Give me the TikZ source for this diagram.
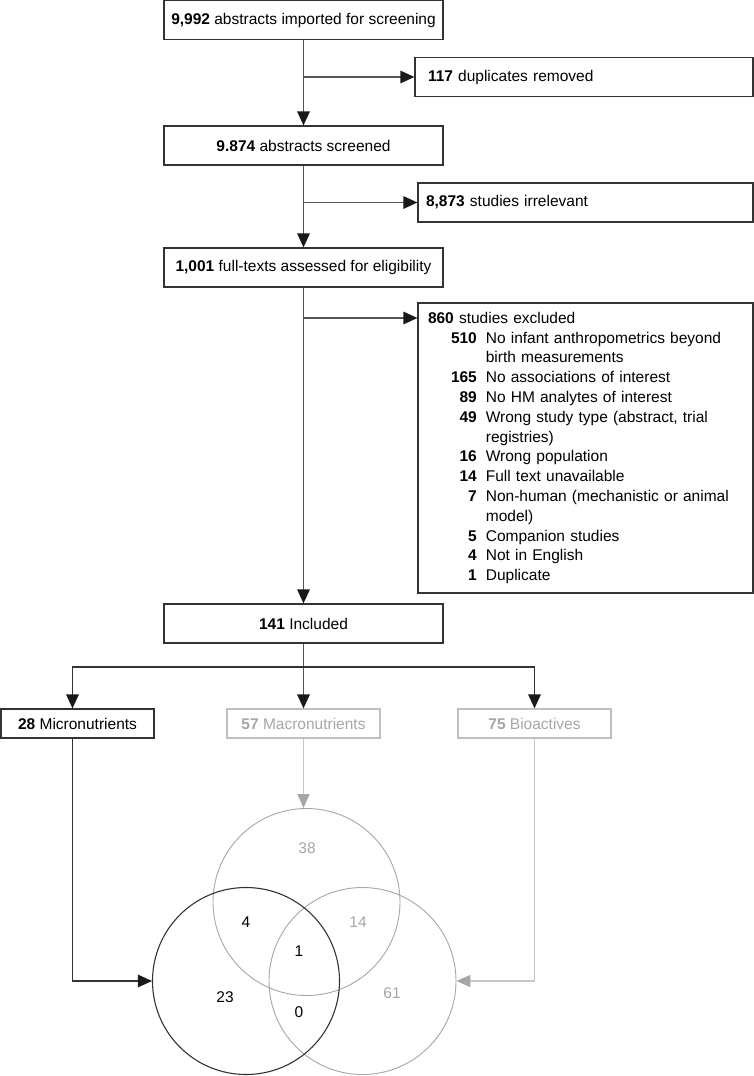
\documentclass[tikz,border=0pt]{standalone}
\usepackage{fontspec}
\setmainfont{Liberation Sans}
\usetikzlibrary{arrows.meta,calc}
\definecolor{dk}{HTML}{333333}
\definecolor{ln}{HTML}{555555}
\definecolor{lg}{HTML}{A6A6A6}
\definecolor{lgb}{HTML}{C0C0C0}
\definecolor{lgl}{HTML}{C8C8C8}
\begin{document}
\begin{tikzpicture}[x=1pt,y=-1pt,
  font=\fontsize{15.5}{19.8}\selectfont,
  box/.style={draw=dk,line width=1.2pt,inner sep=0pt,minimum width=279pt,minimum height=39pt,align=center},
  sidebox/.style={draw=dk,line width=1.2pt,inner ysep=0pt,minimum height=39pt,align=left},
  catbox/.style={line width=1.2pt,inner sep=0pt,minimum width=153pt,minimum height=29pt},
  vc/.style={circle,inner sep=0pt,minimum size=187pt},
  flow/.style={draw=ln,line width=1.5pt,-{Triangle[length=14pt,width=12.5pt,color=black!90,fill=black!90]}},
  flowk/.style={draw=dk,line width=1.3pt,-{Triangle[length=14pt,width=12.5pt,color=black!90,fill=black!90]}},
  gflow/.style={draw=lgl,line width=1.3pt,-{Triangle[length=14pt,width=12pt,color=lg,fill=lg]}},
  gtext/.style={text=lg},
  ktext/.style={text=black}
]
\useasboundingbox (0,0) rectangle (754,1076);

% main column
\node[box] (n1) at (303.5,20) {\textbf{9,992} abstracts imported for screening};
\node[box] (n2) at (303.5,145.5) {\textbf{9.874} abstracts screened};
\node[box] (n3) at (303.5,267.5) {\textbf{1,001} full-texts assessed for eligibility};
\node[box] (n4) at (303.5,623.5) {\textbf{141} Included};

% side boxes
\node[sidebox,inner xsep=13pt,text width=312pt] (d1) at (584,77) {\textbf{117} duplicates removed};
\node[sidebox,inner xsep=8pt,text width=319pt] (d2) at (585.5,202.5) {\textbf{8,873} studies irrelevant};
\node[draw=dk,line width=1.2pt,minimum width=335pt,minimum height=290pt,inner xsep=10pt,inner ysep=0pt,text width=315pt,align=left] (ex) at (585.5,448) {\noindent
\begin{tabular}{@{\hspace{23pt}}r@{\hspace{9pt}}l@{}}
\multicolumn{2}{@{}l@{}}{\textbf{860} studies excluded}\\
\textbf{510} & No infant anthropometrics beyond\\
 & birth measurements\\
\textbf{165} & No associations of interest\\
\textbf{89} & No HM analytes of interest\\
\textbf{49} & Wrong study type (abstract, trial\\
 & registries)\\
\textbf{16} & Wrong population\\
\textbf{14} & Full text unavailable\\
\textbf{7} & Non-human (mechanistic or animal\\
 & model)\\
\textbf{5} & Companion studies\\
\textbf{4} & Not in English\\
\textbf{1} & Duplicate
\end{tabular}};

\coordinate (exin) at (ex.west |- 0,318);

\draw[flow] (n1.south) -- (n2.north);
\draw[flow] (n2.south) -- (n3.north);
\draw[flow] (n3.south) -- (n4.north);
\draw[flow] (n1.south |- d1.west) -- (d1.west);
\draw[flow] (n2.south |- d2.west) -- (d2.west);
\draw[flow] (n3.south |- exin) -- (exin);

% categories
\node[catbox,draw=dk] (mi) at (77.5,723.5) {\textbf{28} Micronutrients};
\node[catbox,draw=lgb,text=lg] (ma) at (303.5,723.5) {\textbf{57} Macronutrients};
\node[catbox,draw=lgb,text=lg] (bi) at (534.5,723.5) {\textbf{75} Bioactives};

\coordinate (br) at (303.5,667);
\draw[flow] (n4.south) -- (ma.north);
\draw[flowk] (br) -| ([xshift=-5pt]mi.north);
\draw[flowk] (br) -| (bi.north);

% venn
\node[vc,draw=lg,line width=0.9pt] (mac) at (306.5,902) {};
\node[vc,draw=lg,line width=0.9pt] (bic) at (362.5,981) {};
\node[vc,draw=dk,line width=1.1pt] (mic) at (246,981) {};

\node[gtext] (v38) at (307,848) {38};
\node[ktext] (v4) at (246,922) {4};
\node[gtext] (v14) at (358,922) {14};
\node[ktext] (v1) at (299,951) {1};
\node[ktext] (v23) at (225,997) {23};
\node[ktext] (v0) at (299,1012) {0};
\node[gtext] (v61) at (392,993) {61};

\draw[gflow] (ma.south) -- (ma.south |- mac.north);
\draw[gflow] (bi.south) |- (bic.east);
\draw[flowk] ([xshift=-5pt]mi.south) |- (mic.west);
\end{tikzpicture}
\end{document}
